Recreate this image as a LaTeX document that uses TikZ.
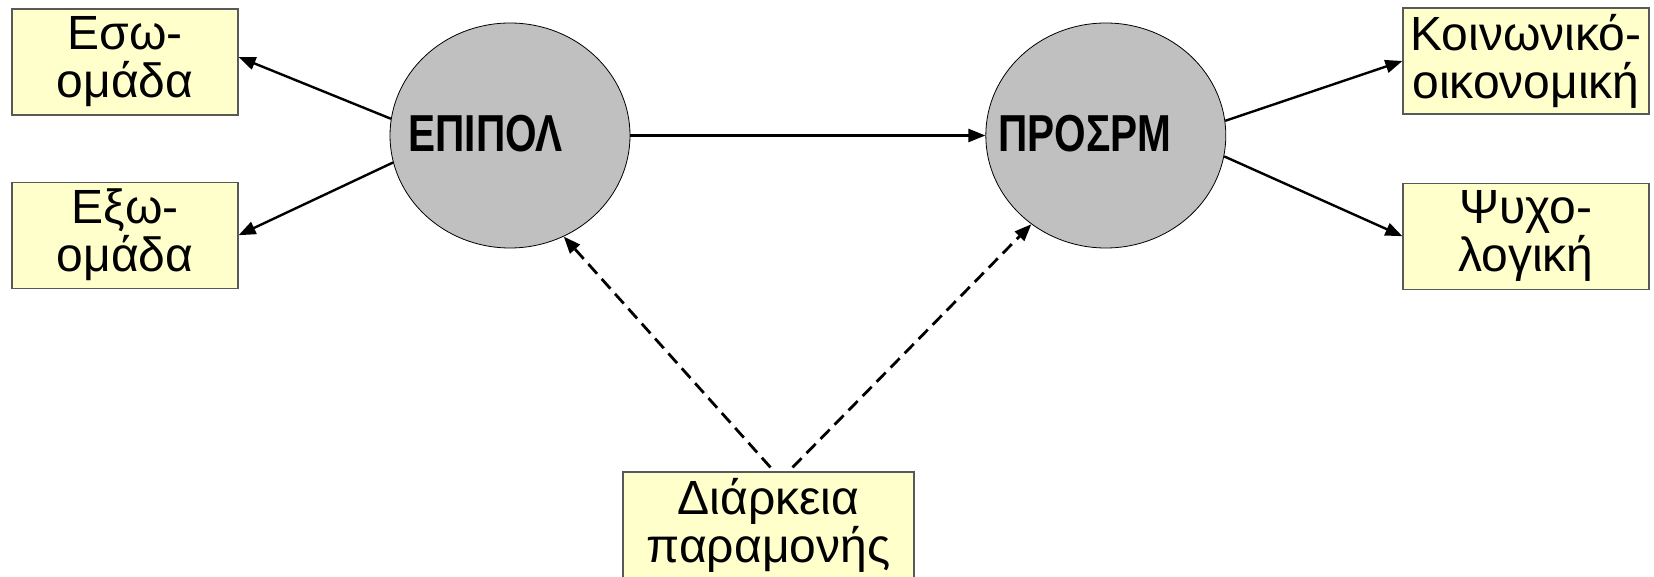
\documentclass[tikz,border=0pt]{standalone}
\usepackage{fontspec}
\setmainfont{Liberation Sans}
\newfontfamily\narrowfont[FakeStretch=0.78]{Liberation Sans}
\usetikzlibrary{positioning,shapes.geometric,arrows.meta}
\definecolor{boxyellow}{HTML}{FFFFCC}
\definecolor{blobgray}{HTML}{C0C0C0}

\begin{document}
\begin{tikzpicture}[x=0.5pt,y=-0.5pt,
    box/.style={rectangle,draw=black!65,line width=0.6pt,fill=boxyellow,
      minimum width=113pt,minimum height=53pt,inner sep=0pt,align=center,
      font=\fontsize{24}{24}\selectfont},
    blob/.style={ellipse,draw,line width=0.4pt,fill=blobgray,
      minimum width=120pt,minimum height=112.5pt,inner sep=0pt},
    blobtext/.style={anchor=base west,inner sep=0pt,
      font=\narrowfont\bfseries\fontsize{26}{26}\selectfont},
    link/.style={line width=1.2pt,-{Triangle[length=8.5pt,width=6.5pt]}},
    dlink/.style={link,line width=1.4pt,dash pattern=on 6.5pt off 3.5pt}]
  \useasboundingbox (0,0) rectangle (1654,577);
  \node[blob] (epipol) at (510,135.5) {};
  \node[blob,right=177.5pt of epipol] (prosrm) {};
  \node[blobtext] (epipoltext) at ([xshift=-51pt,yshift=-8.25pt]epipol.center) {ΕΠΙΠΟΛ};
  \node[blobtext] (prosrmtext) at ([xshift=-54pt,yshift=-8.25pt]prosrm.center) {ΠΡΟΣΡΜ};
  \node[box] (eso) at (125,62) {Εσω-\\ομάδα};
  \node[box,below=33pt of eso] (exo) {Εξω-\\ομάδα};
  \node[box,minimum width=123pt] (koin) at (1526,61) {Κοινωνικό-\\οικονομική};
  \node[box,minimum width=123pt,below=34pt of koin] (psyx) {Ψυχο-\\λογική};
  \node[box,minimum width=145.5pt] (diark) at (768.5,525) {Διάρκεια\\παραμονής};

  \draw[link] (epipol.172) -- ([yshift=2.5pt]eso.east);
  \draw[link] (epipol.193) -- (exo.east);
  \draw[link] (epipol.east) -- (prosrm.west);
  \draw[link] (prosrm.7) -- (koin.west);
  \draw[link] (prosrm.350) -- (psyx.west);
  \draw[dlink] ([xshift=1pt,yshift=2pt]diark.north) -- (epipol.298);
  \draw[dlink] ([xshift=12pt,yshift=2pt]diark.north) -- (prosrm.230);
\end{tikzpicture}
\end{document}
